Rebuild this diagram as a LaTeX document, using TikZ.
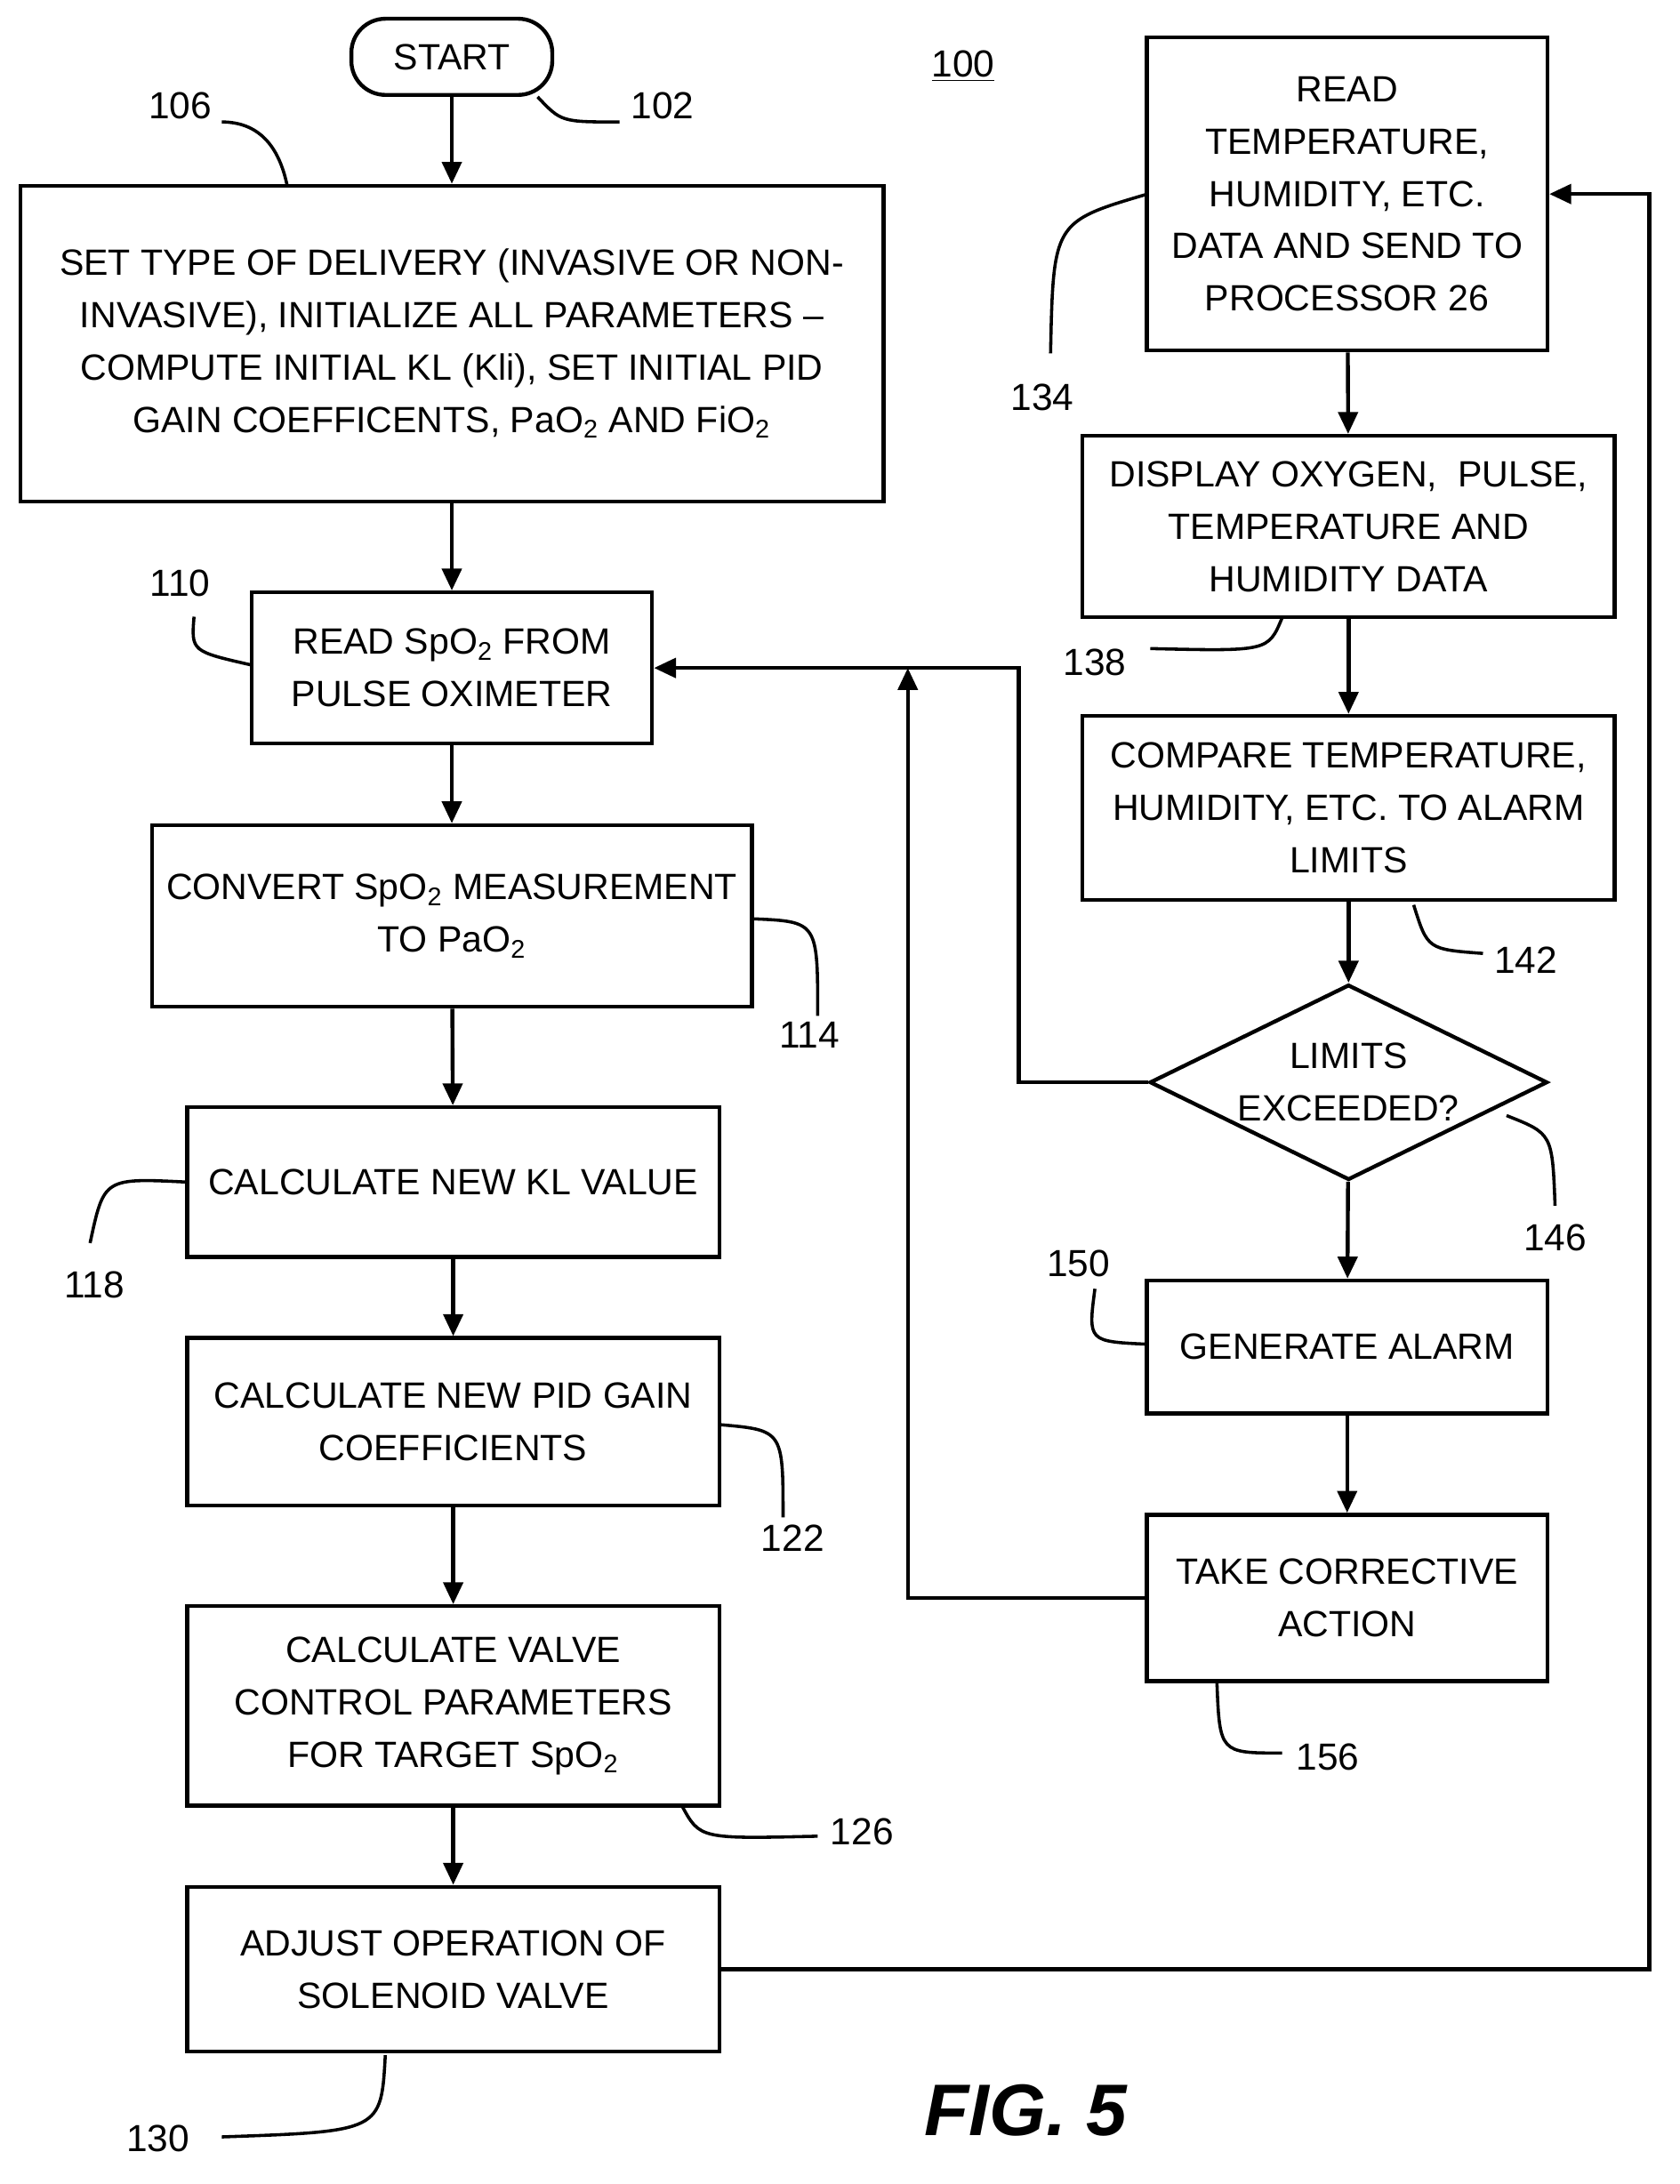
\documentclass[tikz,border=0pt]{standalone}
\usepackage{fontspec}
\setmainfont{Liberation Sans}
\usetikzlibrary{arrows.meta,positioning,shapes.geometric}
\tikzset{
  box/.style={draw, line width=1.6pt, align=center, inner sep=2pt, font=\fontsize{15}{21.5}\selectfont},
  flow/.style={-{Triangle[length=9pt,width=8pt]}, line width=1.6pt},
  lead/.style={line width=1.3pt},
  num/.style={font=\fontsize{15.5}{19}\selectfont}
}
\newcommand{\sub}[1]{\textsubscript{#1}}
\begin{document}
\begin{tikzpicture}[x=0.02cm,y=-0.02cm]
  \useasboundingbox (0,0) rectangle (1212,1576);

  % ---- left column ----
  \node[box, rounded corners=14pt, minimum width=2.9cm, minimum height=1.1cm] (start) at (326,41) {START};
  \node[box, minimum width=12.46cm, minimum height=4.56cm] (init) at (326,248)
    {SET TYPE OF DELIVERY (INVASIVE OR NON-\\INVASIVE), INITIALIZE ALL PARAMETERS --\\COMPUTE INITIAL KL (Kli), SET INITIAL PID\\GAIN COEFFICENTS, PaO\sub{2} AND FiO\sub{2}};
  \node[box, minimum width=5.78cm, minimum height=2.18cm] (readspo) at (326,482)
    {READ SpO\sub{2} FROM\\PULSE OXIMETER};
  \node[box, minimum width=8.66cm, minimum height=2.62cm] (convert) at (326,661)
    {CONVERT SpO\sub{2} MEASUREMENT\\TO PaO\sub{2}};
  \node[box, minimum width=7.68cm, minimum height=2.16cm] (calckl) at (327,853)
    {CALCULATE NEW KL VALUE};
  \node[box, minimum width=7.68cm, minimum height=2.42cm] (calcpid) at (327,1026)
    {CALCULATE NEW PID GAIN\\COEFFICIENTS};
  \node[box, minimum width=7.68cm, minimum height=2.88cm] (calcvalve) at (327,1231)
    {CALCULATE VALVE\\CONTROL PARAMETERS\\FOR TARGET SpO\sub{2}};
  \node[box, minimum width=7.68cm, minimum height=2.38cm] (adjust) at (327,1421)
    {ADJUST OPERATION OF\\SOLENOID VALVE};

  % ---- right column ----
  \node[box, minimum width=5.78cm, minimum height=4.52cm] (readtemp) at (972,140)
    {READ\\TEMPERATURE,\\HUMIDITY, ETC.\\DATA AND SEND TO\\PROCESSOR 26};
  \node[box, minimum width=7.68cm, minimum height=2.62cm] (display) at (973,380)
    {DISPLAY OXYGEN,\ \ PULSE,\\TEMPERATURE AND\\HUMIDITY DATA};
  \node[box, minimum width=7.68cm, minimum height=2.66cm] (compare) at (973,583)
    {COMPARE TEMPERATURE,\\HUMIDITY, ETC. TO ALARM\\LIMITS};
  \node[box, diamond, inner sep=0pt, minimum width=5.74cm, minimum height=2.82cm] (limits) at (973,781) {};
  \node[box, draw=none] (limitstext) at (limits.center) {LIMITS\\EXCEEDED?};
  \node[box, minimum width=5.78cm, minimum height=1.92cm] (alarm) at (972,972)
    {GENERATE ALARM};
  \node[box, minimum width=5.78cm, minimum height=2.4cm] (action) at (972,1153)
    {TAKE CORRECTIVE\\ACTION};

  % ---- flow ----
  \draw[flow] (start) -- (init);
  \draw[flow] (init) -- (readspo);
  \draw[flow] (readspo) -- (convert);
  \draw[flow] (convert) -- (calckl);
  \draw[flow] (calckl) -- (calcpid);
  \draw[flow] (calcpid) -- (calcvalve);
  \draw[flow] (calcvalve) -- (adjust);
  \draw[flow] (readtemp) -- (display);
  \draw[flow] (display) -- (compare);
  \draw[flow] (compare) -- (limits);
  \draw[flow] (limits) -- (alarm);
  \draw[flow] (alarm) -- (action);
  \coordinate (merge) at (655,482);
  \draw[flow] (adjust.east) -| (1190,140) -- (readtemp.east);
  \draw[flow] (limits.west) -| (735,482) -- (readspo.east);
  \draw[flow] (action.west) -| (merge);

  % ---- reference numerals ----
  \node[num] (n100) at (695,48) {\underline{100}};
  \node[num] (n102) at (478,76) {102};
  \draw[lead] (start.south east) ++(-12,0) .. controls (405,88) .. (447,88);
  \node[num] (n106) at (130,76) {106};
  \draw[lead] (160,88) .. controls (190,88) and (202,110) .. (207,133);
  \node[num] (n110) at (130,421) {110};
  \draw[lead] (140,445) .. controls (138,470) .. (182,480);
  \node[num] (n114) at (584,747) {114};
  \draw[lead] (543,663) .. controls (590,665) .. (590,733);
  \node[num] (n118) at (68,927) {118};
  \draw[lead] (135,853) .. controls (75,850) .. (65,897);
  \node[num] (n122) at (572,1110) {122};
  \draw[lead] (519,1028) .. controls (565,1032) .. (565,1095);
  \node[num] (n126) at (622,1322) {126};
  \draw[lead] (492,1303) .. controls (505,1327) .. (590,1325);
  \node[num] (n130) at (114,1543) {130};
  \draw[lead] (278,1483) .. controls (275,1538) .. (160,1542);
  \node[num] (n134) at (752,287) {134};
  \draw[lead] (828,140) .. controls (760,160) .. (758,255);
  \node[num] (n138) at (790,478) {138};
  \draw[lead] (925,446) .. controls (915,470) .. (830,468);
  \node[num] (n142) at (1101,693) {142};
  \draw[lead] (1020,653) .. controls (1030,685) .. (1070,688);
  \node[num] (n146) at (1122,893) {146};
  \draw[lead] (1087,805) .. controls (1120,818) .. (1122,870);
  \node[num] (n150) at (778,912) {150};
  \draw[lead] (790,930) .. controls (785,968) .. (828,970);
  \node[num] (n156) at (958,1268) {156};
  \draw[lead] (878,1213) .. controls (880,1265) .. (925,1265);

  \node[font=\fontsize{30}{34}\selectfont\bfseries\itshape] (fig) at (740,1523) {FIG. 5};
\end{tikzpicture}
\end{document}
